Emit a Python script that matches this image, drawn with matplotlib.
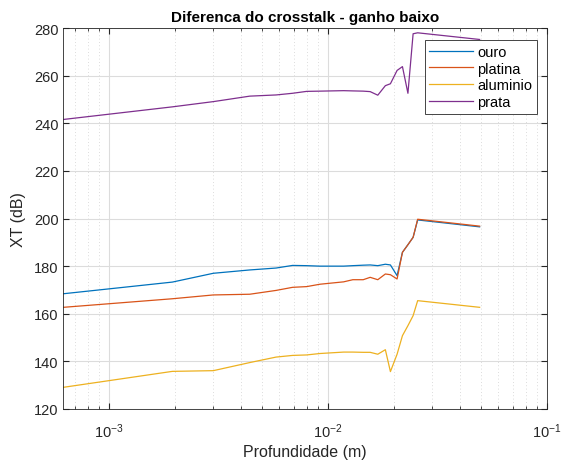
import numpy as np
import matplotlib.pyplot as plt
from matplotlib.ticker import LogLocator, NullFormatter

plt.rcParams['font.family'] = ['Liberation Sans', 'DejaVu Sans']

# profundidade (m)
prof = [6.2e-4, 1.95e-3, 3.0e-3, 4.4e-3, 5.8e-3, 6.9e-3, 8.0e-3, 9.2e-3,
        1.18e-2, 1.3e-2, 1.45e-2, 1.56e-2, 1.69e-2, 1.83e-2, 1.93e-2,
        2.07e-2, 2.19e-2, 2.32e-2, 2.45e-2, 2.57e-2, 4.93e-2]

ouro = [168.4, 173.3, 177.0, 178.4, 179.2, 180.3, 180.2, 180.0, 180.0, 180.2,
        180.4, 180.5, 180.2, 180.8, 180.5, 176.0, 185.8, 189.0, 192.1, 199.4, 196.5]
platina = [162.7, 166.3, 167.9, 168.2, 169.8, 171.1, 171.4, 172.4, 173.4, 174.3,
           174.3, 175.3, 174.3, 176.7, 176.4, 174.6, 185.8, 189.0, 192.1, 199.7, 196.8]
aluminio = [129.1, 135.8, 136.1, 139.5, 141.8, 142.5, 142.7, 143.3, 143.9, 143.9,
            143.8, 143.8, 143.0, 144.9, 135.7, 143.0, 150.8, 155.0, 159.2, 165.5, 162.7]
prata = [241.6, 246.9, 249.1, 251.4, 251.9, 252.6, 253.4, 253.5, 253.7, 253.6,
         253.5, 253.3, 251.8, 255.8, 256.6, 262.2, 263.8, 252.6, 277.6, 278.0, 275.2]

fig = plt.figure(figsize=(5.61, 4.64), dpi=100)
ax = fig.add_axes([0.1129, 0.1164, 0.862, 0.821])

ax.plot(prof, ouro, color='#0072BD', lw=0.9, label='ouro')
ax.plot(prof, platina, color='#D95319', lw=0.9, label='platina')
ax.plot(prof, aluminio, color='#EDB120', lw=0.9, label='aluminio')
ax.plot(prof, prata, color='#7E2F8E', lw=0.9, label='prata')

ax.set_xscale('log')
ax.set_xlim(6.2e-4, 1e-1)
ax.set_ylim(120, 280)
ax.set_yticks(np.arange(120, 281, 20))
ax.xaxis.set_minor_locator(LogLocator(base=10, subs=np.arange(2, 10)))
ax.xaxis.set_minor_formatter(NullFormatter())

ax.grid(True, which='major', color='#dcdcdc', lw=0.8)
ax.grid(True, which='minor', axis='x', color='#d0d0d0', lw=0.6, linestyle=(0, (1, 3)))
ax.set_axisbelow(True)

ax.tick_params(which='both', direction='in', top=True, right=True,
               colors='#262626', labelsize=10.5)
ax.tick_params(which='major', length=4)
ax.tick_params(which='minor', length=2.5)
ax.tick_params(axis='x', which='major', pad=9)
for s in ax.spines.values():
    s.set_color('#262626')
    s.set_linewidth(0.6)

ax.set_title('Diferenca do crosstalk - ganho baixo', fontsize=11,
             fontweight='bold', pad=5)
ax.set_xlabel('Profundidade (m)', fontsize=11.5, color='#262626', labelpad=3)
ax.set_ylabel('XT (dB)', fontsize=11.5, color='#262626', labelpad=6)

leg = ax.legend(loc='upper right', bbox_to_anchor=(0.979, 0.968), fancybox=False,
                framealpha=1, edgecolor='#262626', fontsize=10.5, handlelength=3.0,
                borderaxespad=0, labelspacing=0.2, handletextpad=0.3,
                borderpad=0.3)
leg.get_frame().set_linewidth(0.6)

fig.savefig('out.png', dpi=100)
